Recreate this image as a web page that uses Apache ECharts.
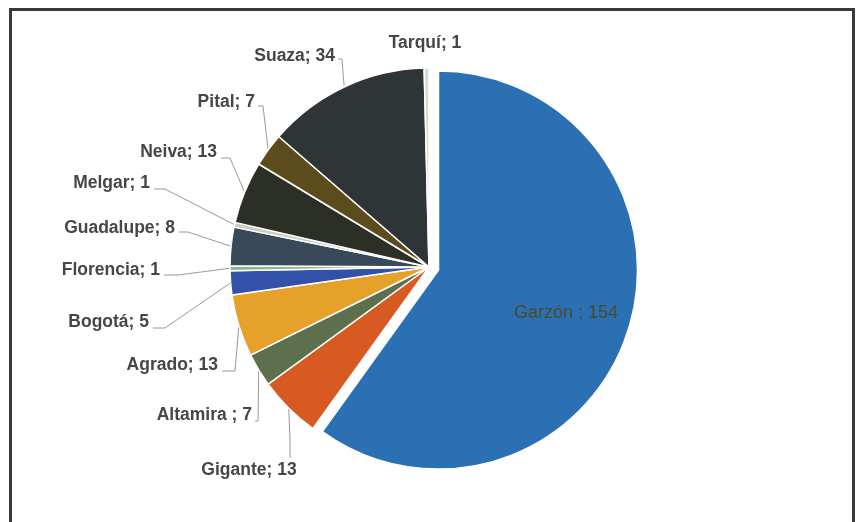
<!DOCTYPE html>
<html>
<head>
<meta charset="utf-8">
<script src="https://cdn.jsdelivr.net/npm/echarts@6/dist/echarts.min.js"></script>
<style>
html,body{margin:0;padding:0;background:#fff;}
#chart{position:absolute;left:0;top:0;width:859px;height:522px;}
#frame{position:absolute;left:9px;top:8px;width:846px;height:516px;border:3px solid #3a3a3a;border-bottom:none;pointer-events:none;box-sizing:border-box;}
</style>
</head>
<body>
<div id="chart"></div>
<div id="frame"></div>
<script>
const categories = ['Garzón ', 'Gigante', 'Altamira ', 'Agrado', 'Bogotá', 'Florencia', 'Guadalupe', 'Melgar', 'Neiva', 'Pital', 'Suaza', 'Tarquí'];
const values = [154, 13, 7, 13, 5, 1, 8, 1, 13, 7, 34, 1];
const colors = ['#2c70b4', '#d65a22', '#5d6f4c', '#e6a12b', '#3152a8', '#8fb88a', '#38495a', '#c8cfc0', '#2c2f26', '#5c4b1d', '#2f3437', '#d8dcd4'];

// label placement (layout only): [textX, textY, align, elbowX, elbowY, lineEndX, lineEndY]
const labelSpots = [
  null,
  [249, 470, 'center', 290, 440, 290, 458],
  [252, 415, 'right', 258, 421, 255, 421],
  [218, 365, 'right', 235, 371, 222, 371],
  [149, 322, 'right', 165, 328, 153, 328],
  [160, 270, 'right', 178, 275, 164, 275],
  [175, 228, 'right', 188, 232, 179, 232],
  [150, 183, 'right', 165, 189, 154, 189],
  [217, 152, 'right', 230, 158, 221, 158],
  [255, 102, 'right', 263, 106, 258, 106],
  [335, 56, 'right', 342, 59, 338, 59],
  [425, 43, 'center']
];

const chart = echarts.init(document.getElementById('chart'), null, {renderer: 'canvas'});
const data = categories.map((c, i) => ({
  name: c,
  value: values[i],
  selected: i === 0,
  itemStyle: {color: colors[i]},
  label: i === 0 ? {position: 'inside', color: '#4d4a2e', fontWeight: 'normal', fontSize: 18} : undefined,
  labelLine: (i === 0 || i === 11) ? {show: false} : undefined
}));

chart.setOption({
  backgroundColor: '#ffffff',
  animation: false,
  series: [{
    type: 'pie',
    center: [429, 267],
    radius: [0, 199],
    startAngle: 90,
    clockwise: true,
    selectedMode: 'single',
    selectedOffset: 10,
    avoidLabelOverlap: false,
    itemStyle: {borderColor: '#ffffff', borderWidth: 1.5},
    label: {
      show: true,
      position: 'outside',
      formatter: p => p.name + '; ' + p.value,
      fontFamily: 'Liberation Sans, Arial, sans-serif',
      fontWeight: 'bold',
      fontSize: 17.5,
      color: '#464646'
    },
    labelLine: {
      show: true,
      length: 18,
      length2: 8,
      lineStyle: {color: '#9a9a9a', width: 1}
    },
    labelLayout: function (params) {
      const s = labelSpots[params.dataIndex];
      if (!s) {
        return {dx: 30, dy: 12};
      }
      const out = {x: s[0], y: s[1], align: s[2], verticalAlign: 'middle'};
      if (s.length > 3 && params.labelLinePoints) {
        const edge = params.labelLinePoints[0];
        out.labelLinePoints = [[edge[0], edge[1]], [s[3], s[4]], [s[5], s[6]]];
      }
      return out;
    },
    data: data
  }]
});
</script>
</body>
</html>
